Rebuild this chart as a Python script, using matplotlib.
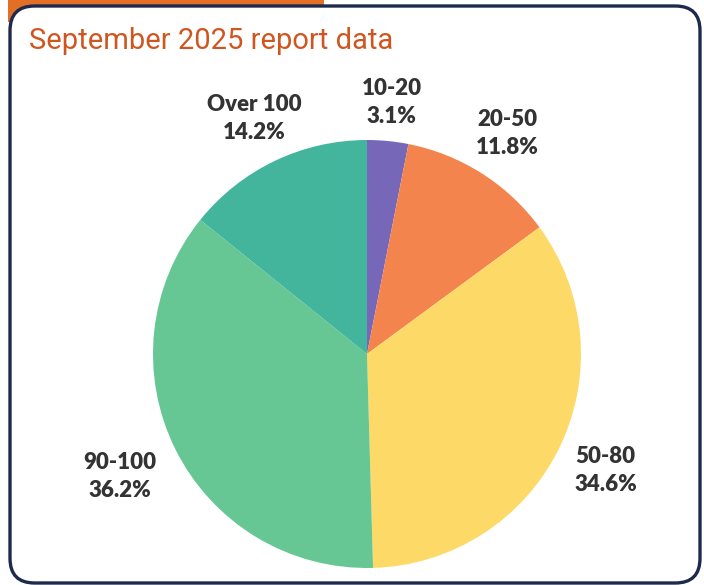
import numpy as np
import matplotlib.pyplot as plt
from matplotlib.patches import FancyBboxPatch, Rectangle

# Distribution of values, September 2025
categories = ["10-20", "20-50", "50-80", "90-100", "Over 100"]
shares = [3.1, 11.8, 34.6, 36.2, 14.2]
colors = ["#7767B9", "#F4844E", "#FDDA67", "#66C795", "#44B59D"]
label_radius = [1.18, 1.22, 1.24, 1.29, 1.22]

W, H = 704, 585
fig = plt.figure(figsize=(W / 100, H / 100), dpi=100)
fig.patch.set_facecolor("white")

# orange tab peeking out behind the card
fig.add_artist(Rectangle((8 / W, 1 - 22 / H), 316 / W, 22 / H,
                         transform=fig.transFigure, facecolor="#E36F26",
                         edgecolor="none", zorder=0))
# card with rounded border
card = FancyBboxPatch((10 / W, 2 / H), 690 / W, 1 - 8 / H,
                      boxstyle="round,pad=0,rounding_size=0.035",
                      transform=fig.transFigure, facecolor="white",
                      edgecolor="#1E2A4C", linewidth=2.4, zorder=1,
                      mutation_aspect=W / H)
fig.add_artist(card)

fig.text(29 / W, 1 - 41 / H, "September 2025 report data", color="#CF5620",
         fontsize=21, fontfamily="Roboto", va="center", ha="left", zorder=3)

cx, cy, r = 367, 354, 214
ax = fig.add_axes([(cx - r) / W, (H - cy - r) / H, 2 * r / W, 2 * r / H])
ax.set_zorder(2)
wedges, _ = ax.pie(shares, colors=colors, startangle=90, counterclock=False,
                   wedgeprops=dict(linewidth=0))

# labels placed at each wedge's mid angle
for w, cat, s, lr in zip(wedges, categories, shares, label_radius):
    ang = np.deg2rad((w.theta1 + w.theta2) / 2)
    ax.text(lr * np.cos(ang), lr * np.sin(ang), f"{cat}\n{s}%",
            ha="center", va="center", fontsize=16, fontweight="heavy",
            fontfamily="Lato", color="#333333", linespacing=1.4)

ax.set_xlim(-1, 1)
ax.set_ylim(-1, 1)
ax.set_aspect("equal")
ax.axis("off")

fig.savefig("out.png", dpi=100)
